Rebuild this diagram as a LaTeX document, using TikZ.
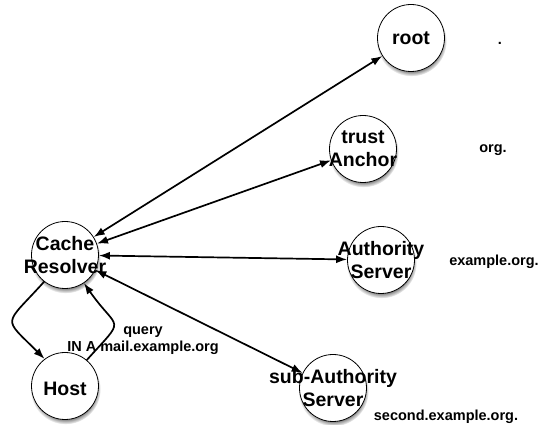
\documentclass[tikz,border=0pt]{standalone}
\usepackage{fontspec}
\setmainfont{Liberation Sans}
\usetikzlibrary{arrows.meta,shadows}
\begin{document}
\begin{tikzpicture}[x=1pt,y=1pt,
  srv/.style={circle,draw=black,line width=0.8pt,fill=white,minimum size=67pt,inner sep=0pt,
    circular drop shadow={shadow xshift=0.5pt,shadow yshift=-3pt,shadow scale=1.05}},
  srvtxt/.style={font=\fontsize{19.5}{23}\selectfont\bfseries,align=center,inner sep=0pt},
  lbl/.style={font=\fontsize{14.5}{17}\selectfont\bfseries,align=center,inner sep=0pt},
  conn/.style={line width=1.7pt,{Latex[length=11pt,width=8pt]}-{Latex[length=11pt,width=8pt]}},
  one/.style={line width=1.7pt,-{Latex[length=11pt,width=8pt]}}]
\useasboundingbox (0,0) rectangle (539,425);
\node[srv] (root) at (411,387) {};
\node[srvtxt] at (root) {root};
\node[srv] (trust) at (363,276) {};
\node[srvtxt] at (trust) {trust\\Anchor};
\node[srv] (auth) at (381,165) {};
\node[srvtxt] at (auth) {Authority\\Server};
\node[srv] (sub) at (333,37) {};
\node[srvtxt] at (sub) {sub-Authority\\Server};
\node[srv] (res) at (65,170) {};
\node[srvtxt] at (res) {Cache\\Resolver};
\node[srv] (host) at (65,39) {};
\node[srvtxt] at ([yshift=-3pt]host.center) {Host};
\node[lbl,anchor=base] (dot) at (500,380) {.};
\node[lbl] (org) at (493,275) {org.};
\node[lbl] (exorg) at (494,163) {example.org.};
\node[lbl] (sec) at (446,8) {second.example.org.};
\node[lbl] (query) at (143,84) {query\\IN A mail.example.org};
\draw[conn] (res) -- (root);
\draw[conn] (res) -- (trust);
\draw[conn] (res) -- (auth);
\draw[conn] (res) -- (sub);
\draw[one] (res.232) to[out=228,in=135,looseness=2] (host.127);
\draw[one] (host.50) to[out=48,in=305,looseness=2] (res.304);
\end{tikzpicture}
\end{document}
